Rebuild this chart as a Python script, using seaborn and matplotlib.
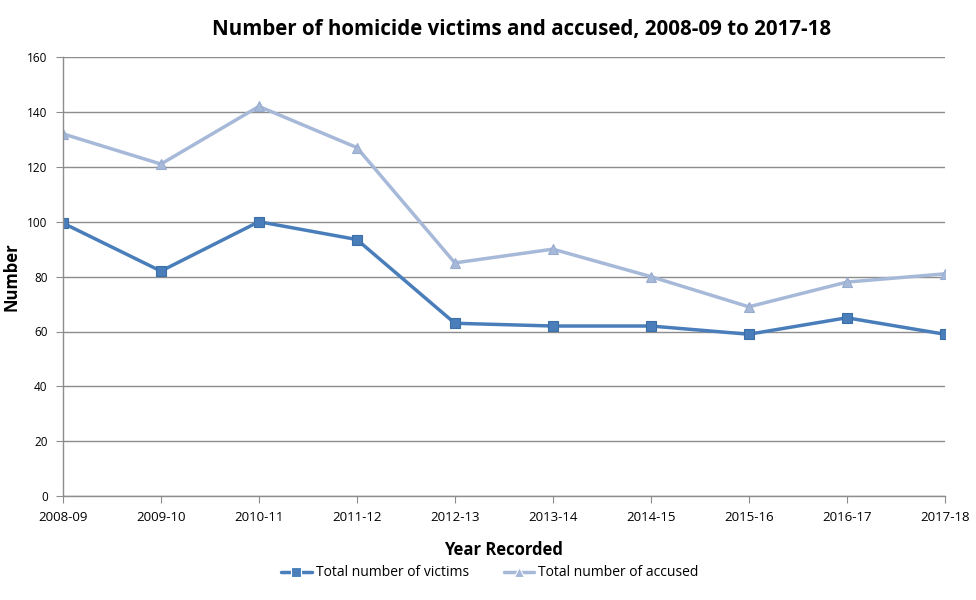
import numpy as np
import pandas as pd
import matplotlib.pyplot as plt
import seaborn as sns

# ДАННЫЕ
years = ['2008-09', '2009-10', '2010-11', '2011-12', '2012-13',
         '2013-14', '2014-15', '2015-16', '2016-17', '2017-18']
victims = [99.5, 82, 100, 93.5, 63, 62, 62, 59, 65, 59]
accused = [132, 121, 142, 127, 85, 90, 80, 69, 78, 81]
series_names = ['Total number of victims', 'Total number of accused']
y_ticks = [0, 20, 40, 60, 80, 100, 120, 140, 160]

df = pd.DataFrame({
    'Year Recorded': years * 2,
    'Number': victims + accused,
    'series': [series_names[0]] * len(years) + [series_names[1]] * len(years),
})
df['pos'] = list(range(len(years))) * 2

sns.set_style('white')
plt.rcParams['font.family'] = ['Open Sans', 'DejaVu Sans']
plt.rcParams['text.color'] = 'black'
plt.rcParams['axes.labelcolor'] = 'black'
plt.rcParams['xtick.color'] = 'black'
plt.rcParams['ytick.color'] = 'black'

fig = plt.figure(figsize=(9.76, 6), dpi=100)
ax = fig.add_axes([0.0645, 0.173, 0.9035, 0.732])

palette = {series_names[0]: '#4a7ebb', series_names[1]: '#a7b9d8'}
sns.lineplot(data=df, x='pos', y='Number', hue='series', style='series',
             markers={series_names[0]: 's', series_names[1]: '^'},
             dashes=False, palette=palette, linewidth=2.5, markersize=7,
             markeredgewidth=0.8, ax=ax)

for line, c in zip(ax.get_lines(), ['#3c6ea8', '#98acd0']):
    line.set_markeredgecolor(c)

ax.set_xlim(0, len(years) - 1)
ax.set_ylim(0, 160)
ax.set_xticks(range(len(years)))
ax.set_xticklabels(years, fontsize=9.5)
ax.set_yticks(y_ticks)
ax.set_yticklabels([str(t) for t in y_ticks], fontsize=8.5)
ax.yaxis.grid(True, color='#8c8c8c', linewidth=1)
ax.set_axisbelow(True)
for s in ['top', 'right']:
    ax.spines[s].set_visible(False)
for s in ['left', 'bottom']:
    ax.spines[s].set_color('#8c8c8c')
    ax.spines[s].set_linewidth(1)
ax.tick_params(axis='both', direction='out', length=5, color='#8c8c8c',
               bottom=True, left=True, pad=6)

ax.set_xlabel('Year Recorded', fontsize=12, fontweight='bold', labelpad=12)
ax.set_ylabel('Number', fontsize=12, fontweight='bold', labelpad=5)
ax.set_title('Number of homicide victims and accused, 2008-09 to 2017-18',
             fontsize=14.8, fontweight='bold', pad=16, x=0.52)

handles, labels = ax.get_legend_handles_labels()
ax.get_legend().remove()
fig.legend(handles, labels, loc='center', bbox_to_anchor=(0.502, 0.045),
           ncol=2, frameon=False, fontsize=10, handlelength=2.2,
           columnspacing=2.5, handletextpad=0.3)

fig.savefig('out.png', dpi=100)
